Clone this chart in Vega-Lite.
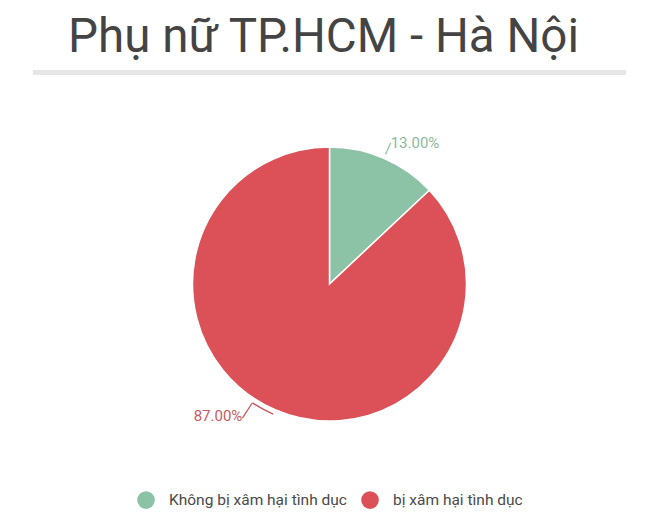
{
  "$schema": "https://vega.github.io/schema/vega-lite/v6.json",
  "background": "white",
  "padding": {"left": 32, "top": 14, "right": 35, "bottom": 5},
  "config": {
    "font": "Roboto",
    "concat": {"spacing": 20},
    "view": {"stroke": null},
    "legend": {"layout": {"bottom": {"anchor": "middle"}}}
  },
  "data": {
    "values": [
      {"category": "Không bị xâm hại tình dục", "value": 13},
      {"category": "bị xâm hại tình dục", "value": 87}
    ]
  },
  "vconcat": [
    {
      "title": {
        "text": "Phụ nữ TP.HCM - Hà Nội",
        "fontSize": 47.5,
        "fontWeight": 400,
        "color": "#444444",
        "anchor": "middle",
        "dx": -6,
        "offset": 8
      },
      "width": 593,
      "height": 5,
      "view": {"fill": "#e6e6e6", "stroke": null},
      "mark": {"type": "rule", "opacity": 0},
      "encoding": {}
    },
    {
      "width": 593,
      "height": 378,
      "transform": [
        {"stack": "value", "groupby": [], "sort": [{"field": "value"}], "as": ["v0", "v1"]},
        {"calculate": "(datum.v0 + datum.v1) / 2", "as": "mid"},
        {"calculate": "format(datum.value, '.2f') + '%'", "as": "label"}
      ],
      "layer": [
        {
          "mark": {"type": "arc", "radius": 137, "stroke": "white", "strokeWidth": 1.5},
          "encoding": {
            "theta": {"field": "v0", "type": "quantitative", "scale": {"domain": [0, 100]}},
            "theta2": {"field": "v1"},
            "color": {
              "field": "category",
              "type": "nominal",
              "scale": {
                "domain": ["Không bị xâm hại tình dục", "bị xâm hại tình dục"],
                "range": ["#8cc3a6", "#db5157"]
              },
              "legend": {
                "orient": "bottom",
                "direction": "horizontal",
                "title": null,
                "symbolType": "circle",
                "symbolSize": 310,
                "symbolStrokeWidth": 0,
                "symbolOpacity": 1,
                "labelFontSize": 15.5,
                "labelFontWeight": 400,
                "labelLimit": 400,
                "labelColor": "#4a4a4a",
                "labelOffset": 14,
                "columnPadding": 14,
                "offset": 18
              }
            }
          }
        },
        {
          "transform": [{"filter": "datum.value < 50"}],
          "layer": [
            {
              "mark": {"type": "arc", "radius": 154, "radius2": 141, "thetaOffset": -0.004, "theta2Offset": 0.004, "color": "#8cc3a6"},
              "encoding": {
                "theta": {"field": "mid", "type": "quantitative"},
                "theta2": {"field": "mid"}
              }
            },
            {
              "mark": {"type": "text", "radius": 154, "align": "left", "baseline": "middle", "fontSize": 15, "fontWeight": 400, "color": "#8ab9a0"},
              "encoding": {
                "theta": {"field": "mid", "type": "quantitative"},
                "text": {"field": "label", "type": "nominal"}
              }
            }
          ]
        },
        {
          "transform": [{"filter": "datum.value > 50"}],
          "layer": [
            {
              "mark": {"type": "arc", "radius": 142.5, "radius2": 141, "theta2Offset": 0.1676, "color": "#c95a61"},
              "encoding": {
                "theta": {"field": "mid", "type": "quantitative"},
                "theta2": {"field": "mid"}
              }
            },
            {
              "mark": {"type": "arc", "radius": 160, "radius2": 142, "thetaOffset": 0.1636, "theta2Offset": 0.1716, "color": "#c95a61"},
              "encoding": {
                "theta": {"field": "mid", "type": "quantitative"},
                "theta2": {"field": "mid"}
              }
            },
            {
              "mark": {"type": "text", "radius": 160, "thetaOffset": 0.1676, "align": "right", "baseline": "middle", "dy": -2, "fontSize": 15, "fontWeight": 400, "color": "#c95a61"},
              "encoding": {
                "theta": {"field": "mid", "type": "quantitative"},
                "text": {"field": "label", "type": "nominal"}
              }
            }
          ]
        }
      ]
    }
  ]
}
